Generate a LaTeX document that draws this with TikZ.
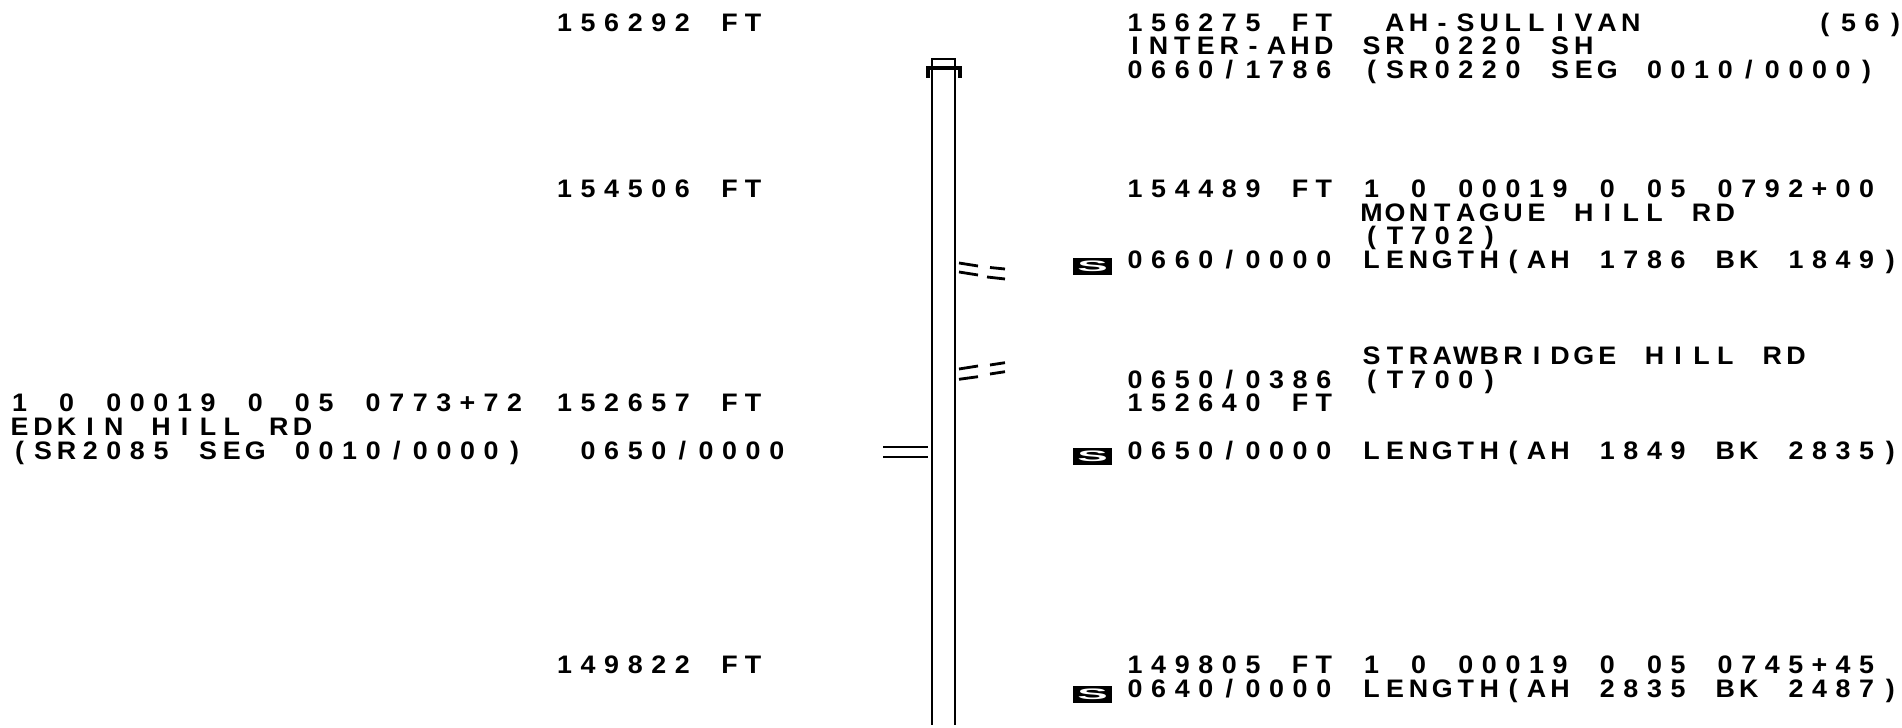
\documentclass[tikz,border=0pt]{standalone}
\usepackage{fontspec}
\newfontfamily\plotfont[FakeStretch=1.06]{Liberation Sans Bold}
\newlength{\plotpitch}
\setlength{\plotpitch}{0.2357cm}
\ExplSyntaxOn
\NewDocumentCommand{\plotline}{m}{\str_map_inline:nn{#1}{\makebox[\plotpitch][c]{##1}}}
\ExplSyntaxOff
\begin{document}
\begin{tikzpicture}[x=0.01cm,y=-0.01cm]
                \tikzset{
                    plotline/.style={line width=0.8pt, black},
                    roadtext/.style={anchor=base west, inner sep=0, font=\plotfont\fontsize{7.2}{8}\selectfont},
                    surfmark/.style={fill=black, text=white, minimum width=0.39cm, minimum height=0.17cm, inner sep=0, font=\plotfont\fontsize{7.2}{8}\selectfont}
                }
                \useasboundingbox (0,0) rectangle (1902,728);

                % left column
                \draw node[roadtext] (fta) at (552,32) {\plotline{156292 FT}};
                \draw node[roadtext] (ftb) at (552,198) {\plotline{154506 FT}};
                \draw node[roadtext] (ftc) at (552,412) {\plotline{152657 FT}};
                \draw node[roadtext] (ftd) at (552,674) {\plotline{149822 FT}};
                \draw node[roadtext] (lmile) at (575.6,460) {\plotline{0650/0000}};
                \draw node[roadtext] (edkina) at (7,412) {\plotline{1 0 00019 0 05 0773+72}};
                \draw node[roadtext] (edkinb) at (7,436) {\plotline{EDKIN HILL RD}};
                \draw node[roadtext] (edkinc) at (7,460) {\plotline{(SR2085 SEG 0010/0000)}};

                % right column, mile points
                \draw node[roadtext] (rfta) at (1122.6,32) {\plotline{156275 FT}};
                \draw node[roadtext] (inter) at (1122.6,55) {\plotline{INTER-AHD}};
                \draw node[roadtext] (rma) at (1122.6,79) {\plotline{0660/1786}};
                \draw node[roadtext] (rftb) at (1122.6,198) {\plotline{154489 FT}};
                \draw node[roadtext] (rmb) at (1122.6,269) {\plotline{0660/0000}};
                \draw node[roadtext] (rmc) at (1122.6,389) {\plotline{0650/0386}};
                \draw node[roadtext] (rftc) at (1122.6,412) {\plotline{152640 FT}};
                \draw node[roadtext] (rmd) at (1122.6,460) {\plotline{0650/0000}};
                \draw node[roadtext] (rftd) at (1122.6,674) {\plotline{149805 FT}};
                \draw node[roadtext] (rme) at (1122.6,698) {\plotline{0640/0000}};

                % right column, descriptions
                \draw node[roadtext] (sullivan) at (1382.4,32) {\plotline{AH-SULLIVAN}};
                \draw node[roadtext] (route) at (1812.4,32) {\plotline{(56)}};
                \draw node[roadtext] (sra) at (1359,55) {\plotline{SR 0220 SH}};
                \draw node[roadtext] (srb) at (1359,79) {\plotline{(SR0220 SEG 0010/0000)}};
                \draw node[roadtext] (mona) at (1359,198) {\plotline{1 0 00019 0 05 0792+00}};
                \draw node[roadtext] (monb) at (1359,222) {\plotline{MONTAGUE HILL RD}};
                \draw node[roadtext] (monc) at (1359,245) {\plotline{(T702)}};
                \draw node[roadtext] (lena) at (1359,269) {\plotline{LENGTH(AH 1786 BK 1849)}};
                \draw node[roadtext] (stra) at (1359,365) {\plotline{STRAWBRIDGE HILL RD}};
                \draw node[roadtext] (strb) at (1359,389) {\plotline{(T700)}};
                \draw node[roadtext] (lenb) at (1359,460) {\plotline{LENGTH(AH 1849 BK 2835)}};
                \draw node[roadtext] (mile) at (1359,674) {\plotline{1 0 00019 0 05 0745+45}};
                \draw node[roadtext] (lenc) at (1359,698) {\plotline{LENGTH(AH 2835 BK 2487)}};

                % surface marks
                \foreach \n/\y in {sa/266.5, sb/456.5, sc/694.5}{
                \draw node[surfmark] (\n) at (1092.5,\y) {\scalebox{1.7}[0.6]{S}};
                }

                % main road
                \draw[plotline] (932,725) -- (932,59) -- (955,59) -- (955,725);
                \draw[line width=1pt] (926,68) -- (962,68);
                \foreach \x in {928,960}{
                \draw[line width=1.4pt] (\x,67) -- (\x,78);
                }

                % side roads
                \foreach \xa/\ya/\xb/\yb in {%
                    883/447/928/447, 883/457/928/457,%
                    959/263/978/266, 959/272/978/275, 990/267.5/1005/269, 987/277/1005/279,%
                    959/369/978/366, 959/379.3/978/376.7, 990/365/1005/362.7, 990/374/1005/371.7%
                }{
                \draw[plotline] (\xa,\ya) -- (\xb,\yb);
                }
            \end{tikzpicture}
\end{document}
